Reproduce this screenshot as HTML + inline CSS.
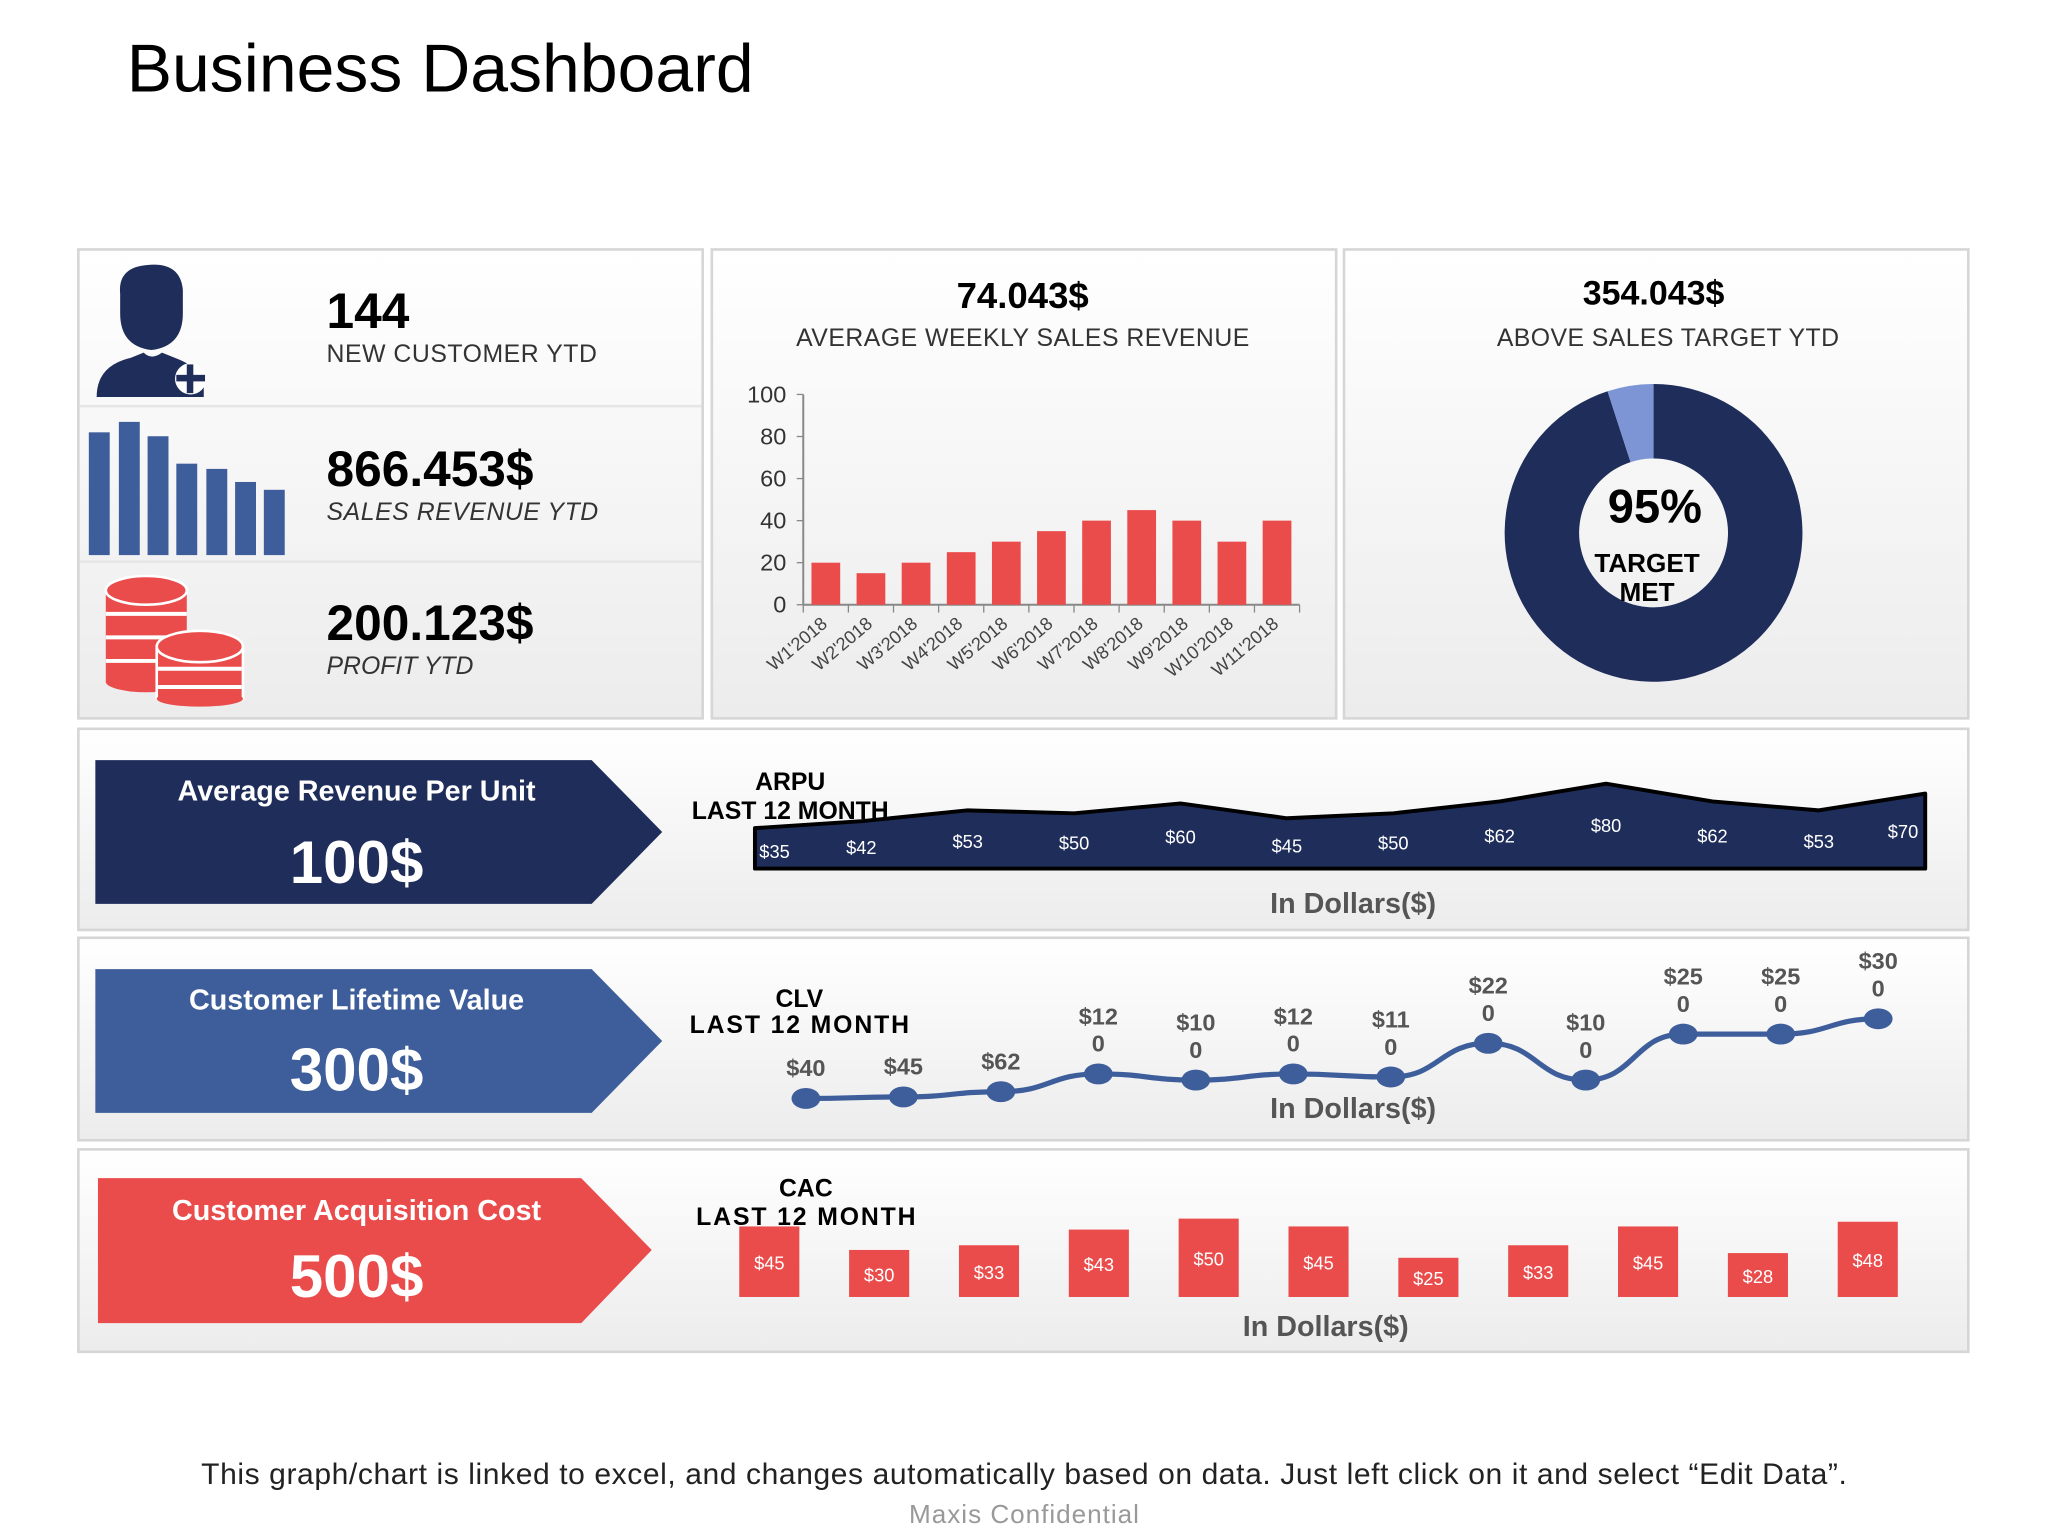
<!DOCTYPE html>
<html><head><meta charset="utf-8">
<style>
html,body{margin:0;padding:0;background:#fff;}
svg{display:block;font-family:"Liberation Sans",Arial,sans-serif;}
</style></head>
<body>
<svg id="root" width="2048" height="1536" viewBox="0 0 1568 1176" xmlns="http://www.w3.org/2000/svg">
<defs>
<linearGradient id="pg" x1="0" y1="0" x2="0" y2="1"><stop offset="0" stop-color="#ffffff"/><stop offset="1" stop-color="#ececec"/></linearGradient>
</defs>
<text x="97" y="70" font-size="52" fill="#000" textLength="480">Business Dashboard</text>

<rect x="60" y="191" width="478" height="359" fill="url(#pg)" stroke="#d6d6d6" stroke-width="2"/>
<rect x="545" y="191" width="478" height="359" fill="url(#pg)" stroke="#d6d6d6" stroke-width="2"/>
<rect x="1029" y="191" width="478" height="359" fill="url(#pg)" stroke="#d6d6d6" stroke-width="2"/>
<rect x="60" y="558" width="1447" height="154" fill="url(#pg)" stroke="#d6d6d6" stroke-width="2"/>
<rect x="60" y="718" width="1447" height="155" fill="url(#pg)" stroke="#d6d6d6" stroke-width="2"/>
<rect x="60" y="880" width="1447" height="155" fill="url(#pg)" stroke="#d6d6d6" stroke-width="2"/>
<line x1="61" y1="311" x2="537" y2="311" stroke="#e6e6e6" stroke-width="2"/>
<line x1="61" y1="430" x2="537" y2="430" stroke="#e6e6e6" stroke-width="2"/>

<g fill="#1f2d5a">
<path d="M92,225 Q90,205 112,203 Q138,200 140,222 L140,240 Q140,265 116,268 Q92,265 92,240 Z"/>
<path d="M74,304 Q74,280 100,274 L110,270 Q116,276 124,270 L134,274 Q150,280 156,290 L156,304 Z"/>
<circle cx="146" cy="290" r="12" fill="#fff"/>
<rect x="143" y="279" width="5" height="22"/><rect x="135" y="287" width="22" height="5"/>
</g>
<g fill="#3d5e9a">
<rect x="68" y="331" width="16" height="94"/><rect x="91" y="323" width="16" height="102"/><rect x="113" y="334" width="16" height="91"/><rect x="135" y="355" width="16" height="70"/><rect x="158" y="359" width="16" height="66"/><rect x="180" y="369" width="16" height="56"/><rect x="202" y="375" width="16" height="50"/>
</g>
<g>
<rect x="81" y="452" width="62" height="70" fill="#ea4b4b"/>
<line x1="81" y1="470" x2="143" y2="470" stroke="#fff" stroke-width="3"/><line x1="81" y1="488" x2="143" y2="488" stroke="#fff" stroke-width="3"/><line x1="81" y1="506" x2="143" y2="506" stroke="#fff" stroke-width="3"/>
<ellipse cx="112" cy="522" rx="31" ry="8" fill="#ea4b4b"/>
<ellipse cx="112" cy="452" rx="31" ry="11" fill="#ea4b4b" stroke="#fff" stroke-width="2"/>
<rect x="120" y="495" width="66" height="40" fill="#ea4b4b" stroke="#fff" stroke-width="2"/>
<line x1="121" y1="512" x2="185" y2="512" stroke="#fff" stroke-width="3"/><line x1="121" y1="526" x2="185" y2="526" stroke="#fff" stroke-width="3"/>
<ellipse cx="153" cy="535" rx="33" ry="6" fill="#ea4b4b"/>
<ellipse cx="153" cy="495" rx="33" ry="12" fill="#ea4b4b" stroke="#fff" stroke-width="2"/>
</g>
<text x="250" y="251" font-size="38" font-weight="bold">144</text>
<text x="250" y="277" font-size="19" fill="#333" textLength="207">NEW CUSTOMER YTD</text>
<text x="250" y="372" font-size="38" font-weight="bold">866.453$</text>
<text x="250" y="398" font-size="19" font-style="italic" fill="#333" textLength="208">SALES REVENUE YTD</text>
<text x="250" y="490" font-size="38" font-weight="bold">200.123$</text>
<text x="250" y="516" font-size="19" font-style="italic" fill="#333">PROFIT YTD</text>

<text x="783" y="236" font-size="28" font-weight="bold" text-anchor="middle">74.043$</text>
<text x="783" y="265" font-size="19" fill="#333" text-anchor="middle" textLength="347">AVERAGE WEEKLY SALES REVENUE</text>
<g id="weekly"></g>

<text x="1266" y="233" font-size="26" font-weight="bold" text-anchor="middle">354.043$</text>
<text x="1277" y="265" font-size="19" fill="#333" text-anchor="middle" textLength="262">ABOVE SALES TARGET YTD</text>
<g id="donut"></g>
<text x="1267" y="400" font-size="36" font-weight="bold" text-anchor="middle">95%</text>
<text x="1261" y="438" font-size="20" font-weight="bold" text-anchor="middle">TARGET</text>
<text x="1261" y="460" font-size="20" font-weight="bold" text-anchor="middle">MET</text>

<polygon points="73,582 453,582 507,637 453,692 73,692" fill="#1f2d5a"/>
<text x="273" y="613" font-size="22" font-weight="bold" fill="#fff" text-anchor="middle">Average Revenue Per Unit</text>
<text x="273" y="676" font-size="46" font-weight="bold" fill="#fff" text-anchor="middle">100$</text>
<polygon points="73,742 453,742 507,797 453,852 73,852" fill="#3d5e9a"/>
<text x="273" y="773" font-size="22" font-weight="bold" fill="#fff" text-anchor="middle">Customer Lifetime Value</text>
<text x="273" y="835" font-size="46" font-weight="bold" fill="#fff" text-anchor="middle">300$</text>
<polygon points="75,902 445,902 499,957 445,1013 75,1013" fill="#ea4b4b"/>
<text x="273" y="934" font-size="22" font-weight="bold" fill="#fff" text-anchor="middle">Customer Acquisition Cost</text>
<text x="273" y="993" font-size="46" font-weight="bold" fill="#fff" text-anchor="middle">500$</text>

<g id="arpu"></g>
<g id="clv"></g>
<g id="cac"></g>
<text x="605" y="605" font-size="19" font-weight="bold" text-anchor="middle">ARPU</text>
<text x="605" y="627" font-size="19" font-weight="bold" text-anchor="middle">LAST 12 MONTH</text>
<text x="1036" y="699" font-size="22" font-weight="bold" fill="#555" text-anchor="middle">In Dollars($)</text>
<text x="612" y="771" font-size="19" font-weight="bold" text-anchor="middle">CLV</text>
<text x="612" y="791" font-size="19" font-weight="bold" text-anchor="middle" textLength="168">LAST 12 MONTH</text>
<text x="1036" y="856" font-size="22" font-weight="bold" fill="#555" text-anchor="middle">In Dollars($)</text>
<text x="617" y="916" font-size="19" font-weight="bold" text-anchor="middle">CAC</text>
<text x="617" y="938" font-size="19" font-weight="bold" text-anchor="middle" textLength="168">LAST 12 MONTH</text>
<text x="1015" y="1023" font-size="22" font-weight="bold" fill="#555" text-anchor="middle">In Dollars($)</text>

<text x="784" y="1136" font-size="23" fill="#222" text-anchor="middle" textLength="1260">This graph/chart is linked to excel, and changes automatically based on data. Just left click on it and select “Edit Data”.</text>
<text x="784" y="1166" font-size="20" fill="#999" text-anchor="middle" textLength="176">Maxis Confidential</text>
</svg>
<script>
const weekCats=["W1'2018","W2'2018","W3'2018","W4'2018","W5'2018","W6'2018","W7'2018","W8'2018","W9'2018","W10'2018","W11'2018"];
const weekVals=[20,15,20,25,30,35,40,45,40,30,40];
const weekTicks=[0,20,40,60,80,100];
const donutVals=[95,5];
const arpuVals=[35,42,53,50,60,45,50,62,80,62,53,70];
const arpuLabels=["$35","$42","$53","$50","$60","$45","$50","$62","$80","$62","$53","$70"];
const clvVals=[40,45,62,120,100,120,110,220,100,250,250,300];
const clvLabels=["$40","$45","$62","$120","$100","$120","$110","$220","$100","$250","$250","$300"];
const cacVals=[45,30,33,43,50,45,25,33,45,28,48];
const cacLabels=["$45","$30","$33","$43","$50","$45","$25","$33","$45","$28","$48"];

const NS='http://www.w3.org/2000/svg';
function mk(tag,attrs,parent,txt){const e=document.createElementNS(NS,tag);for(const k in attrs)e.setAttribute(k,attrs[k]);if(txt!==undefined)e.textContent=txt;parent.appendChild(e);return e;}

(function(){
const g=document.getElementById('weekly');
const x0=615,x1=995,y0=463,y1=302;
const ys=v=>y0-(v/100)*(y0-y1);
const step=(x1-x0)/weekCats.length;
const xs=i=>x0+step*(i+0.5);
mk('line',{x1:x0,y1:y1,x2:x0,y2:y0,stroke:'#888','stroke-width':1.5},g);
mk('line',{x1:x0,y1:y0,x2:x1,y2:y0,stroke:'#888','stroke-width':1.5},g);
weekTicks.forEach(t=>{
 mk('line',{x1:x0-5,y1:ys(t),x2:x0,y2:ys(t),stroke:'#888'},g);
 const tl=mk('text',{x:x0-13,y:ys(t)+6,'font-size':18,fill:'#333','text-anchor':'end'},g,String(t));
 
 
});
for(let i=0;i<=weekCats.length;i++)mk('line',{x1:x0+step*i,y1:y0,x2:x0+step*i,y2:y0+6,stroke:'#888'},g);
weekVals.forEach((v,i)=>{
 const r=mk('rect',{x:xs(i)-11,y:ys(v),width:22,height:y0-ys(v),fill:'#ea4b4b'},g);
 
 
 const t=mk('text',{x:xs(i)+2,y:y0+16,'font-size':14,fill:'#444','text-anchor':'end',transform:`rotate(-40 ${xs(i)+2} ${y0+16})`},g,weekCats[i]);
 
 
});
})();

(function(){
const g=document.getElementById('donut');
const cx=1266,cy=408,R=114,r=57;
const total=donutVals.reduce((a,b)=>a+b,0);
const cols=['#1f2d5a','#7d95d4'];
let a=0;
donutVals.forEach((v,i)=>{
 const a0=a,a1=a+v/total*2*Math.PI;a=a1;
 const p=(ang,rad)=>[cx+rad*Math.sin(ang),cy-rad*Math.cos(ang)];
 const [ox0,oy0]=p(a0,R),[ox1,oy1]=p(a1,R),[ix1,iy1]=p(a1,r),[ix0,iy0]=p(a0,r);
 const lg=(a1-a0)>Math.PI?1:0;
 const d=`M${ox0},${oy0} A${R},${R} 0 ${lg} 1 ${ox1},${oy1} L${ix1},${iy1} A${r},${r} 0 ${lg} 0 ${ix0},${iy0} Z`;
 const s=mk('path',{d:d,fill:cols[i]},g);
 
 
});
})();

(function(){
const g=document.getElementById('arpu');
const x0=578,x1=1474,base=665;
const xs=i=>x0+(x1-x0)*i/(arpuVals.length-1);
const ys=v=>660.5-v*0.756;
const ly=v=>667.6-v*0.444;
let d=`M${x0},${base}`;
arpuVals.forEach((v,i)=>d+=` L${xs(i)},${ys(v)}`);
d+=` L${x1},${base} Z`;
const a=mk('path',{d:d,fill:'#1f2d5a',stroke:'#000','stroke-width':3,'stroke-linejoin':'round'},g);


arpuVals.forEach((v,i)=>{
 let tx=xs(i);if(i===0)tx+=15;if(i===arpuVals.length-1)tx-=17;
 const t=mk('text',{x:tx,y:ly(v)+5,'font-size':14,fill:'#fff','text-anchor':'middle'},g,arpuLabels[i]);
 
 
});
})();

(function(){
const g=document.getElementById('clv');
const x0=617,x1=1438;
const xs=i=>x0+(x1-x0)*i/(clvVals.length-1);
const ys=v=>841-(v-40)*0.2346;
let d='';
clvVals.forEach((v,i)=>{
 const X=xs(i),Y=ys(v);
 if(i===0)d=`M${X},${Y}`;else{const px=xs(i-1),py=ys(clvVals[i-1]);const m=(X-px)/2;d+=` C${px+m},${py} ${X-m},${Y} ${X},${Y}`;}
});
const l=mk('path',{d:d,fill:'none',stroke:'#3d5e9a','stroke-width':4},g);


clvVals.forEach((v,i)=>{
 const X=xs(i),Y=ys(v);
 const c=mk('ellipse',{cx:X,cy:Y,rx:11,ry:8,fill:'#3d5e9a'},g);
 
 
 const lab=clvLabels[i];
 if(lab.length>3){
  const t1=mk('text',{x:X,y:Y-38,'font-size':18,'font-weight':'bold',fill:'#555','text-anchor':'middle'},g,lab.slice(0,3));
  
  
  const t2=mk('text',{x:X,y:Y-17,'font-size':18,'font-weight':'bold',fill:'#555','text-anchor':'middle'},g,lab.slice(3));
  
  
 }else{
  const t=mk('text',{x:X,y:Y-17,'font-size':18,'font-weight':'bold',fill:'#555','text-anchor':'middle'},g,lab);
  
  
 }
});
})();

(function(){
const g=document.getElementById('cac');
const x0=589,x1=1430,base=993;
const xs=i=>x0+(x1-x0)*i/(cacVals.length-1);
const h=v=>v*1.2;
cacVals.forEach((v,i)=>{
 const r=mk('rect',{x:xs(i)-23,y:base-h(v),width:46,height:h(v),fill:'#ea4b4b'},g);
 
 
 const t=mk('text',{x:xs(i),y:base-h(v)/2+6,'font-size':14,fill:'#fff','text-anchor':'middle'},g,cacLabels[i]);
 
 
});
})();
</script>
</body></html>
